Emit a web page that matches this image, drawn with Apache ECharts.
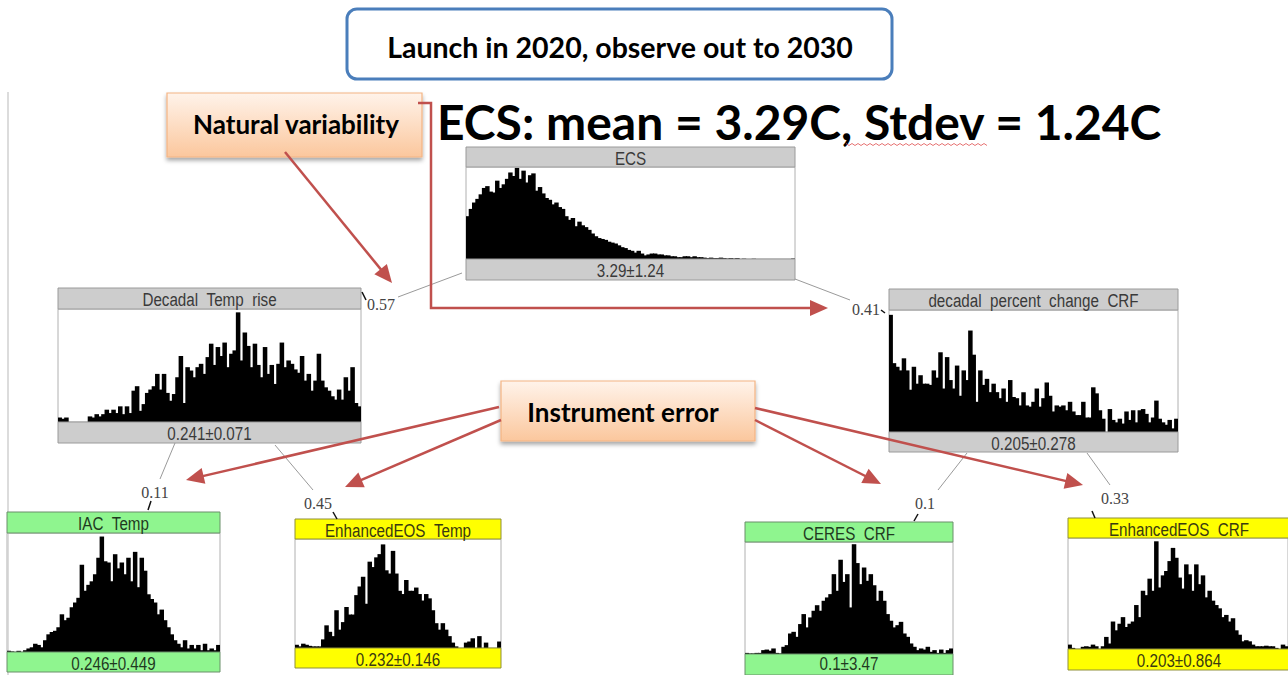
<!DOCTYPE html>
<html>
<head>
<meta charset="utf-8">
<script src="https://cdn.jsdelivr.net/npm/echarts@6/dist/echarts.min.js"></script>
<style>html,body{margin:0;padding:0;background:#fff;}#c{width:1288px;height:675px;}</style>
</head>
<body>
<div id="c"></div>
<script>
// ---------------- DATA ----------------
const nodeNames = ['ECS', 'Decadal  Temp  rise', 'decadal  percent  change  CRF', 'IAC  Temp', 'EnhancedEOS  Temp', 'CERES  CRF', 'EnhancedEOS  CRF'];
const nodeStats = ['3.29±1.24', '0.241±0.071', '0.205±0.278', '0.246±0.449', '0.232±0.146', '0.1±3.47', '0.203±0.864'];
const edgeWeights = ['0.57', '0.41', '0.11', '0.45', '0.1', '0.33'];
const titleText = 'Launch in 2020, observe out to 2030';
const headlineText = 'ECS: mean = 3.29C, Stdev = 1.24C';
const calloutNatural = 'Natural variability';
const calloutInstrument = 'Instrument error';

const histECS = [47,55,62,66,71,78,80,74,73,86,78,82,88,95,91,100,88,97,84,92,94,75,79,72,67,65,60,62,57,55,47,43,45,36,41,37,35,32,28,25,23,22,21,19,18,17,15,13,12,10,9,7,9,6,4,5,6,6,5,5,4,4,3,3,2,2,3,3,2,3,2,2,1.5,1,1.5,1,1,1.5,1,0.5,1,0.5,1,0,0.4,0,0,0.3,0,0,0,0,0,0,0,0,0,0,0,0.5];
const histTempRise = [4,3,4,0,0,0,0,0,0,5,4,7,5,7,11,8,11,8,14,7,14,8,28,32,10,16,26,29,32,43,29,43,26,19,25,40,59,17,49,46,40,49,52,43,58,70,51,67,59,71,49,61,64,98,55,80,68,49,70,51,40,67,43,51,34,52,71,49,55,52,47,44,59,37,43,28,37,61,37,31,28,23,20,29,20,40,28,49,17,14];
const histCRF = [97,57,54,51,61,51,35,54,40,47,40,40,39,51,45,66,36,62,43,36,55,30,51,43,84,64,25,51,39,44,33,40,33,28,36,25,43,29,28,22,33,22,21,25,36,21,28,41,30,17,22,21,22,18,25,17,14,14,25,12,12,37,32,18,11,0,19,10,8,11,7,17,10,18,8,18,19,15,8,12,26,11,8,6,10,3,11];
const histIAC = [1,0.5,0,1,0,1.5,3,4,7,6,4,10,15,17,18,21,32,27,29,38,42,46,74,52,57,60,66,80,98,77,76,60,83,71,76,66,80,60,85,55,80,69,49,45,42,32,36,27,21,15,10,7,4,10,3,6,3,6,1.5,7,1.5,3,1.5,6];
const histEEOSTemp = [3,1.5,4,3,2,1.5,1.5,1.5,8,21,15,11,35,17,24,38,31,31,49,57,66,41,80,75,84,87,96,72,69,90,69,53,50,63,53,53,56,50,44,50,46,35,23,17,23,17,11,5,1.5,0,0,5,6,9,0,11,0,5,0,0,0,6];
const histCERES = [1,0.5,0.5,1,1,3.5,4,3,5,1,0.5,6.5,8,18.5,20,15.5,27,36,24,33,39,44,39,48,51,54,72,57,85,65,72,42,99,82,63,78,66,72,62,48,57,48,36,30,24,26,29,18.5,15.5,9.5,6.5,3.5,5,4,6.5,2,3.5,1,4,1,3.5,5];
const histEEOSCRF = [4,1,0,0,2,2.5,2,4,2.5,0,2.5,11,5,25,17,23,29,20,23,25,40,29,53,49,64,53,98,56,67,71,80,92,83,65,55,77,68,53,77,59,67,47,53,44,40,37,29,31,25,28,17,13,7,8,7,4,2.5,2.5,2.5,3,2.5,2.5,1,0,4,2.5];
const histograms = [histECS, histTempRise, histCRF, histIAC, histEEOSTemp, histCERES, histEEOSCRF];

// ---------------- LAYOUT ----------------
const nodeBoxes = [
  {x:466, w:329, top:147, hb:167, base:259, fb:280, fill:'#cdcdcd', stroke:'#9a9a9a', tc:'#3a3a3a'},
  {x:58,  w:303, top:288, hb:309, base:422, fb:443, fill:'#cdcdcd', stroke:'#9a9a9a', tc:'#3a3a3a'},
  {x:889, w:289, top:289, hb:310, base:432, fb:452, fill:'#cdcdcd', stroke:'#9a9a9a', tc:'#3a3a3a'},
  {x:7,   w:213, top:512, hb:533, base:652, fb:672, fill:'#8ff58f', stroke:'#6a8f6a', tc:'#1f3a1f'},
  {x:295, w:206, top:519, hb:539, base:648, fb:668, fill:'#ffff00', stroke:'#8f8f3a', tc:'#3a3a10'},
  {x:745, w:208, top:522, hb:542, base:654, fb:675, fill:'#8ff58f', stroke:'#6a8f6a', tc:'#1f3a1f'},
  {x:1068,w:222, top:518, hb:538, base:649, fb:670, fill:'#ffff00', stroke:'#8f8f3a', tc:'#3a3a10'}
];
const edgeGeom = [
  {x1:462,y1:273,x2:398,y2:297, lx:381, ly:304, mk:[366,300,362,292]},
  {x1:795,y1:279,x2:850,y2:300, lx:866, ly:309, mk:[881,310,885,313]},
  {x1:175,y1:443,x2:160,y2:479, lx:155, ly:492, mk:[151,501,148,510]},
  {x1:275,y1:445,x2:313,y2:490, lx:318, ly:503, mk:[333,512,337,519]},
  {x1:967,y1:453,x2:938,y2:490, lx:925, ly:503, mk:[918,514,914,521]},
  {x1:1087,y1:453,x2:1110,y2:485, lx:1115, ly:498, mk:[1092,511,1095,518]}
];
const RED = '#c0504d';

const chart = echarts.init(document.getElementById('c'), null, {renderer:'svg'});

const grids = [], xAxes = [], yAxes = [], series = [];
histograms.forEach((h, i) => {
  const b = nodeBoxes[i];
  grids.push({left:b.x, top:b.hb, width:b.w, height:b.base - b.hb, show:true, backgroundColor:'#fff', borderColor:'#b0b0b0', borderWidth:1, containLabel:false});
  xAxes.push({type:'category', gridIndex:i, data:h.map((_, k) => k), show:false, boundaryGap:true});
  yAxes.push({type:'value', gridIndex:i, min:0, max:101, show:false});
  series.push({type:'bar', xAxisIndex:i, yAxisIndex:i, data:h, barWidth:'135%', silent:true,
    itemStyle:{color:'#000'}});
});

const g = [];
g.push({type:'line', shape:{x1:8,y1:92,x2:8,y2:675}, style:{stroke:'#d0d0d0', lineWidth:1.5}, z:1});

const nodeFont = '19px "Liberation Sans", Arial, sans-serif';
nodeBoxes.forEach((b, i) => {
  g.push({type:'rect', shape:{x:b.x, y:b.top, width:b.w, height:b.hb - b.top}, style:{fill:b.fill, stroke:b.stroke, lineWidth:1}, z:5});
  g.push({type:'rect', shape:{x:b.x, y:b.base, width:b.w, height:b.fb - b.base}, style:{fill:b.fill, stroke:b.stroke, lineWidth:1}, z:5});
  g.push({type:'text', x:b.x + b.w/2, y:(b.top + b.hb)/2 + 1, scaleX:0.8, style:{text:nodeNames[i].replace(/  /g, ' \u00a0'), fill:b.tc, font:nodeFont, textAlign:'center', textVerticalAlign:'middle'}, z:6});
  g.push({type:'text', x:b.x + b.w/2, y:Math.min((b.base + b.fb)/2 + 1, 663), scaleX:0.8, style:{text:nodeStats[i], fill:b.tc, font:nodeFont, textAlign:'center', textVerticalAlign:'middle'}, z:6});
});

edgeGeom.forEach((e, i) => {
  g.push({type:'line', shape:{x1:e.x1,y1:e.y1,x2:e.x2,y2:e.y2}, style:{stroke:'#9a9a9a', lineWidth:1}, z:4});
  g.push({type:'text', x:e.lx, y:e.ly, style:{text:edgeWeights[i], fill:'#444', font:'16px "Liberation Serif", "Times New Roman", serif', textAlign:'center', textVerticalAlign:'middle'}, z:6});
  g.push({type:'line', shape:{x1:e.mk[0],y1:e.mk[1],x2:e.mk[2],y2:e.mk[3]}, style:{stroke:'#111', lineWidth:1.5}, z:6});
});

function arrow(pts, width, head) {
  const n = pts.length;
  const [ex, ey] = pts[n-1], [sx, sy] = pts[n-2];
  const ang = Math.atan2(ey - sy, ex - sx);
  const bx = ex - head * Math.cos(ang), by = ey - head * Math.sin(ang);
  const px = Math.sin(ang) * head * 0.45, py = -Math.cos(ang) * head * 0.45;
  const linePts = pts.slice(0, n-1).concat([[bx + Math.cos(ang)*2, by + Math.sin(ang)*2]]);
  g.push({type:'polyline', shape:{points:linePts}, style:{stroke:RED, lineWidth:width, fill:null}, z:8});
  g.push({type:'polygon', shape:{points:[[ex,ey],[bx+px,by+py],[bx-px,by-py]]}, style:{fill:RED}, z:8});
}

g.push({type:'rect', shape:{x:347, y:9, width:545, height:70, r:10}, style:{fill:'#fff', stroke:'#4a7ebb', lineWidth:3}, z:5});
g.push({type:'text', x:620, y:47, style:{text:titleText, fill:'#000', font:'bold 28.5px Lato, "Open Sans", sans-serif', textAlign:'center', textVerticalAlign:'middle'}, z:6});

g.push({type:'text', x:437, y:121, style:{text:headlineText, fill:'#000', font:'bold 48px Lato, "Open Sans", sans-serif', textAlign:'left', textVerticalAlign:'middle'}, z:6});
(function(){
  const pts = [];
  for (let x = 846; x <= 988; x += 3) pts.push([x, 144 + ((x - 846) / 3 % 2 ? 1.5 : -0.5)]);
  g.push({type:'polyline', shape:{points:pts}, style:{stroke:'#e05050', lineWidth:0.8, fill:null}, z:6});
})();

const peach = {type:'linear', x:0, y:0, x2:0, y2:1, colorStops:[{offset:0, color:'#fff3ea'}, {offset:1, color:'#fbc79d'}]};
g.push({type:'rect', shape:{x:167, y:93, width:255, height:64}, style:{fill:peach, stroke:'#f4b483', lineWidth:1.2, shadowBlur:4, shadowOffsetY:3, shadowColor:'rgba(0,0,0,0.35)'}, z:7});
g.push({type:'text', x:296, y:124, style:{text:calloutNatural, fill:'#000', font:'bold 26px Lato, "Open Sans", sans-serif', textAlign:'center', textVerticalAlign:'middle'}, z:8});
g.push({type:'rect', shape:{x:501, y:381, width:254, height:60}, style:{fill:peach, stroke:'#f4b483', lineWidth:1.2, shadowBlur:4, shadowOffsetY:3, shadowColor:'rgba(0,0,0,0.35)'}, z:7});
g.push({type:'text', x:623, y:412, style:{text:calloutInstrument, fill:'#000', font:'bold 26px Lato, "Open Sans", sans-serif', textAlign:'center', textVerticalAlign:'middle'}, z:8});

arrow([[285,152],[392,283]], 2.5, 18);
arrow([[418,103],[431,103],[431,308],[828,308]], 2.5, 18);
arrow([[499,407],[186,480]], 2.5, 18);
arrow([[501,420],[345,487]], 2.5, 18);
arrow([[755,420],[881,484]], 2.5, 18);
arrow([[755,408],[1083,485]], 2.5, 18);

chart.setOption({
  animation:false,
  backgroundColor:'#fff',
  grid:grids, xAxis:xAxes, yAxis:yAxes, series:series,
  graphic:{elements:g}
});
</script>
</body>
</html>
